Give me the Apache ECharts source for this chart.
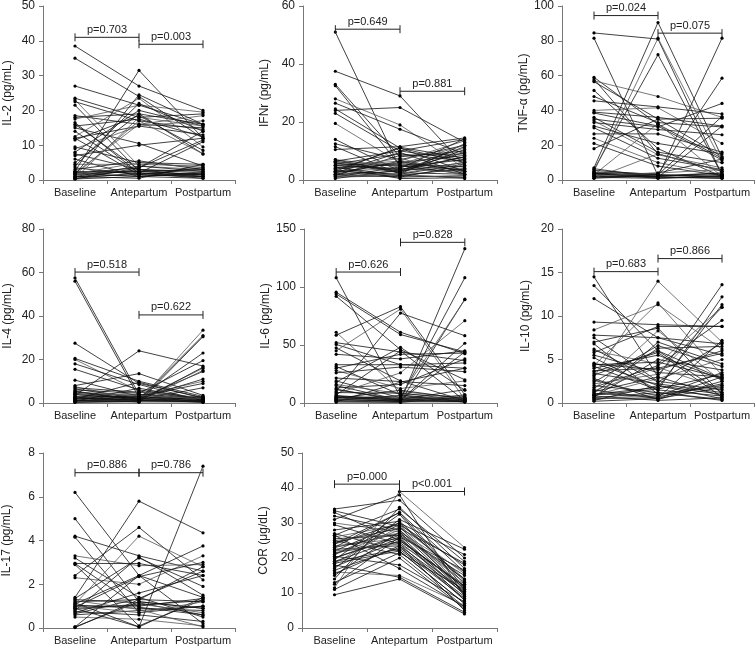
<!DOCTYPE html>
<html>
<head>
<meta charset="utf-8">
<script src="https://cdn.jsdelivr.net/npm/echarts@6/dist/echarts.min.js"></script>
<style>
html,body{margin:0;padding:0;background:#fff;}
#chart{width:755px;height:648px;}
</style>
</head>
<body>
<div id="chart"></div>
<script>
const categories = ['Baseline', 'Antepartum', 'Postpartum'];

// ---- IL-2 ----
const il2Base = [38.5,35,27,23.5,23,22.5,21.5,18.5,18,17.5,16,15.5,15,14,12.5,12,12,11.5,9.5,9,8,7.5,7,6,4.5,4,3,2.5,2.5,2,2,2,1.5,1.5,1.5,1,1,1,0.8,0.5,0.5,0.3,0.3,2.2,1.8,3.5,5,16.5];
const il2Ante = [27,24,21.5,18,4,17,2.5,16,19,21.5,3,17.5,10.5,2,23.5,15.5,1.5,18.5,5,15.5,20,3,10,1,4.5,22,5.5,31.5,2,16,3.5,1,24.5,2.5,17,1.5,4,0.5,3,18,2,1,3.5,2.5,5,1.5,19,2];
const il2Post = [20,12,16,19,3,14.5,1.5,15,7.5,19.5,2,12.5,4,1,9.5,13,3.5,8.5,4.5,17,15.5,2.5,12,0.5,4,14,3,12,1.5,18.5,11.5,2,16,3,7.5,1,2.5,4.5,1,15.5,0.5,2,14,1.5,3.5,1,16,11];

// ---- IFNr ----
const ifnBase = [51,37.5,33,32.5,28,26.5,24.5,24,23,19.5,14,12.5,11.5,10.5,7,6.5,6,5.5,5,5,4.5,4,3.5,3,3,2.5,2,2,1.5,1.5,1,1,6.5,5.5,4,3.5,2.5,7,0.5,6,4.5,2,5,3,1.2];
const ifnAnte = [4,29,8,5,19,17.5,11,25,10,6,3,7,2,11.5,4.5,10,2.5,9,3.5,6.5,1.5,5.5,11,2,4,6,1,3,8.5,2,4.5,1.5,3,5,7.5,1,9.5,2.5,3.5,5.5,0.5,6.5,4,11.3,2.2];
const ifnPost = [3,5,10,2,4,9,6,13,7,3.5,8,12,5.5,14.5,11,14,2,6.5,9.5,13.5,1,4.5,3,12.5,2.5,8.5,1.5,6,9,0.5,7,4,11.5,3.5,1.5,5,2,10.5,8,12,0.8,3,14.2,7.5,6.2];

// ---- TNF-α ----
const tnfBase = [84.5,81.5,59,58,57,56.5,51.5,48,45.5,40,39,38.5,36,35,34,33,31,30,26.5,24,21,18,7,6,5,4.5,4,3.5,3,3,2.5,2,2,1.5,1,1,6.5,5.5,4,2.5,3.8];
const tnfAnte = [81,2.5,32,15,48,35,18,33,42,41.5,36,31,16,30.5,14.5,29,21,12.5,26.5,10,8,35,90.5,72,81.5,3.5,2,3,4,32.5,1.5,2,3,1,15,2.5,1.5,3,2,4,1];
const tnfPost = [3,4,12.5,5,36,13.5,2,30.5,38,21,31,11.5,10,44,7,26,15,6,16,3,2.5,35.5,13,3,10,58.5,81.5,36.5,12,2,1,4,1.5,2,5,3,31,2,1,6,2.5];

// ---- IL-4 ----
const il4Base = [57.5,56,27.5,20.5,20,18,15.5,10.5,8,7.5,7,6.5,6,5.5,5,4.5,4,3.5,3,3,2.5,2,2,1.5,1.5,1,1,0.5,0.5,2.2,1.2,3.8,0.8,2.7,4.2,0.3,1.8,5.2];
const il4Ante = [4,2.5,9,10,5.5,8.5,6,3,13.5,1.5,5,2,4.5,1,3.5,2,1.5,24,3,1,0.5,2.5,1.5,4,0.5,2,3,1,0.5,5,1,2.2,6.8,1.2,3.5,0.8,9.5,1.8];
const il4Post = [1,2,2.5,3,1.5,1,2,0.5,3.5,16,2,1,19.5,0.5,10,14.5,31,17,1.5,33.5,30.5,23,7,2,15,11,9,1,0.5,2.5,3,1.2,1.5,0.8,2,16.5,2.2,0.3];

// ---- IL-6 ----
const il6Base = [108,95.5,94,92,61,58.5,52,50.5,47.5,45,42,33,31.5,30,28,26,21.5,19,18,16,15,13,11.5,10,8,7,6,5.5,5,4.5,4,3.5,3,2.5,2,1.5,1,6.5,9,3.2,12,2.2,4.8,0.8];
const il6Ante = [5,61,59,46,10,83,44,33,19,81,38,33,7,42,12.5,31,18.5,4.5,48,8,2.5,16,3,77.5,26,45,2,4,1,6,11,3.5,1.5,2,5,1,18,2.5,8.5,4.2,1.8,6.5,3,0.5];
const il6Post = [3,42.5,44,20,4,7,36.5,34.5,2,3,45,30,1.5,43,19,27,15,2.5,11,5,51.5,38,4,58,71,2,133,108,89.5,89,3.5,1,7,2,3,1,30,44,2.5,4.5,1.2,0.8,11.5,5.5];

// ---- IL-10 ----
const il10Base = [14.5,13.5,12,9.3,8.4,7.8,7.5,7,6.8,6,5.8,5.5,4.6,4.5,4.3,4.2,4,3.7,3.4,3,2.6,2.4,2,1.8,1.6,1.5,1.3,1.2,1,0.9,0.8,0.7,0.6,0.5,0.4,0.3,0.2,5.2,3.2,2.2,1.1,0.6,4.4,6.2,1.4,2.8,0.9,3.6];
const il10Ante = [3,6,7.5,9,11.3,7.5,2.5,8.6,1,4.5,8.8,3.5,2,3.8,11.5,1.5,5.5,4,2.2,14,0.8,6.6,1.2,4.3,8.3,0.5,3,6.3,1.8,2.8,0.3,5,7,0.6,1,2,0.5,1.5,6,3.3,0.7,1.2,4.7,2.4,4.1,0.4,1.6,5.8];
const il10Post = [0.8,2.8,5.5,8.8,6.2,6.8,1.5,1,2,11,8.8,3,0.5,6,3.2,12.2,2.7,5.7,1.2,7,3.5,4.2,0.3,9.5,2.5,1.8,13.6,6.5,11.3,5,0.6,3.8,4.5,7.2,2,1,3,0.8,1.2,11,2.2,0.4,2.9,6.9,1.6,2.5,3.3,0.7];

// ---- IL-17 ----
const il17Base = [6.2,5,4.2,4.15,3.3,3.2,2.95,2.9,2.4,2.3,1.4,1.35,1.3,1.2,1.1,1.05,1,0.95,0.9,0.85,0.8,0.75,0.7,0.6,0.5,0.05,0.05,1.15,0.65,1.25,0.9,1.1,2.95,0.02,1.0];
const il17Ante = [2.4,1.2,3.3,0.7,2.85,1.4,2.95,0.1,4.6,2,5.8,3.2,1.15,1.3,4.2,0.9,1,2.35,0.05,1.1,3.25,0.6,1.6,0.8,0.4,2.4,1.2,0.05,1.35,0.85,1.05,2.4,0.95,1.3,0.7];
const il17Post = [1.4,0.9,2.6,1,2.9,0.5,2.4,1.3,2.2,3.3,4.35,1.9,0.6,1.2,2.8,0.8,1.35,3,7.4,0.7,1.5,0.3,2.4,1,0.1,3.75,0.9,1.4,2.6,0.05,1.25,0.2,0.6,2.8,1.2];

// ---- COR ----
const corBase = [34,33.5,33,31,30,29.5,28,27,26.5,26,25.5,25,24.5,24,23.5,23,22.5,22,21.5,21,20.5,20,19.5,19,18.5,18,17.5,17,16.5,16,15,14,13,12.5,11.5,11,9.5,26.5,24,22,20,32,18.5,23,25,15.5,21,19];
const corAnte = [36.5,29,25,38,27.5,24,30.5,22,34,29.5,26.5,21,28.5,33,25.5,27,23.5,30,24.5,28,18,26,32.5,22.5,29,14.5,25,31,23,15,27.5,34.5,21.5,26,39,20,14,17,30,24,26.5,28,22,33,27,23.5,29.5,25.5];
const corPost = [20,10,12,9,16,8,13.5,7,19,11,15,6,18.5,12.5,9.5,14,5,21,10.5,13,7.5,16.5,11.5,8.5,15.5,4.5,12,22.5,9,6.5,10,17,11,8,23,5.5,4,6,14,12.5,9.5,11,7,16,13,10,18,11.5];

// ---- tick settings and p-value brackets ----
const panelNames = ['IL-2 (pg/mL)','IFNr (pg/mL)','TNF-\u03b1 (pg/mL)','IL-4 (pg/mL)','IL-6 (pg/mL)','IL-10 (pg/mL)','IL-17 (pg/mL)','COR (\u03bcg/dL)'];
const yMax = [50, 60, 100, 80, 150, 20, 8, 50];
const yStep = [10, 20, 20, 20, 50, 5, 2, 10];
// [fromIdx, toIdx, value, text]
const brackets = [
  [[0,1,41,'p=0.703'],[1,2,39,'p=0.003']],
  [[0,1,52,'p=0.649'],[1,2,30.6,'p=0.881']],
  [[0,1,94.5,'p=0.024'],[1,2,84.4,'p=0.075']],
  [[0,1,60.2,'p=0.518'],[1,2,40.5,'p=0.622']],
  [[0,1,112.9,'p=0.626'],[1,2,138.5,'p=0.828']],
  [[0,1,15.1,'p=0.683'],[1,2,16.6,'p=0.866']],
  [[0,1,7.1,'p=0.886'],[1,2,7.1,'p=0.786']],
  [[0,1,41.1,'p=0.000'],[1,2,39,'p<0.001']]
];

const panelData = [
  [il2Base, il2Ante, il2Post],
  [ifnBase, ifnAnte, ifnPost],
  [tnfBase, tnfAnte, tnfPost],
  [il4Base, il4Ante, il4Post],
  [il6Base, il6Ante, il6Post],
  [il10Base, il10Ante, il10Post],
  [il17Base, il17Ante, il17Post],
  [corBase, corAnte, corPost]
];

// layout (pixels)
const gridBoxes = [
  {left:43, top:5, width:192, height:175},
  {left:303, top:5, width:194, height:175},
  {left:562, top:5, width:192, height:175},
  {left:43, top:229, width:192, height:174},
  {left:304, top:229, width:193, height:174},
  {left:562, top:229, width:192, height:174},
  {left:43, top:453, width:192, height:175},
  {left:302, top:453, width:195, height:175}
];
const nameGaps = [29, 32, 30, 29, 31, 30, 30, 32];

const FONT = 'Liberation Sans, Arial, sans-serif';
const TEXT = '#222';
const AXIS = '#777';

const grids = [], xAxes = [], yAxes = [], series = [];
gridBoxes.forEach((g, i) => {
  grids.push(Object.assign({containLabel:false}, g));
  xAxes.push({
    type:'category', gridIndex:i, data:categories, boundaryGap:true,
    axisLine:{lineStyle:{color:AXIS, width:1}},
    axisTick:{show:true, length:4, inside:false, lineStyle:{color:AXIS}},
    axisLabel:{color:TEXT, fontSize:11, fontFamily:FONT, margin:7, interval:0},
    splitLine:{show:false}
  });
  yAxes.push({
    type:'value', gridIndex:i, min:0, max:yMax[i], interval:yStep[i],
    name:panelNames[i], nameLocation:'middle', nameGap:nameGaps[i], nameRotate:90,
    nameTextStyle:{color:TEXT, fontSize:12, fontFamily:FONT},
    axisLine:{show:true, lineStyle:{color:AXIS, width:1}},
    axisTick:{show:true, length:4, lineStyle:{color:AXIS}},
    axisLabel:{color:TEXT, fontSize:12, fontFamily:FONT, margin:8},
    splitLine:{show:false}
  });
  const [b, a, p] = panelData[i];
  for (let k = 0; k < b.length; k++) {
    series.push({
      type:'line', xAxisIndex:i, yAxisIndex:i,
      data:[b[k], a[k], p[k]],
      symbol:'circle', symbolSize:3.2, showSymbol:true,
      lineStyle:{color: (k % 5 === 4) ? '#555' : '#111', width:0.8},
      itemStyle:{color:'#000'},
      silent:true, animation:false, z:2
    });
  }
  series.push({
    type:'custom', xAxisIndex:i, yAxisIndex:i, animation:false, silent:true, z:5,
    data: brackets[i].map(r => r),
    renderItem: function(params, api) {
      const from = api.value(0), to = api.value(1), v = api.value(2);
      const r = brackets[i][params.dataIndex];
      const p1 = api.coord([from, v]);
      const p2 = api.coord([to, v]);
      const h = 4;
      return {
        type:'group',
        children:[
          {type:'line', shape:{x1:p1[0], y1:p1[1], x2:p2[0], y2:p2[1]}, style:{stroke:'#222', lineWidth:1}},
          {type:'line', shape:{x1:p1[0], y1:p1[1]-h, x2:p1[0], y2:p1[1]+h}, style:{stroke:'#222', lineWidth:1}},
          {type:'line', shape:{x1:p2[0], y1:p2[1]-h, x2:p2[0], y2:p2[1]+h}, style:{stroke:'#222', lineWidth:1}},
          {type:'text', style:{text:r[3], x:(p1[0]+p2[0])/2, y:p1[1]-2, textAlign:'center', textVerticalAlign:'bottom', fill:TEXT, fontSize:11, fontFamily:FONT}}
        ]
      };
    }
  });
});

const chart = echarts.init(document.getElementById('chart'), null, {renderer:'canvas'});
chart.setOption({
  animation:false,
  backgroundColor:'#fff',
  grid:grids, xAxis:xAxes, yAxis:yAxes, series:series
});
</script>
</body>
</html>
